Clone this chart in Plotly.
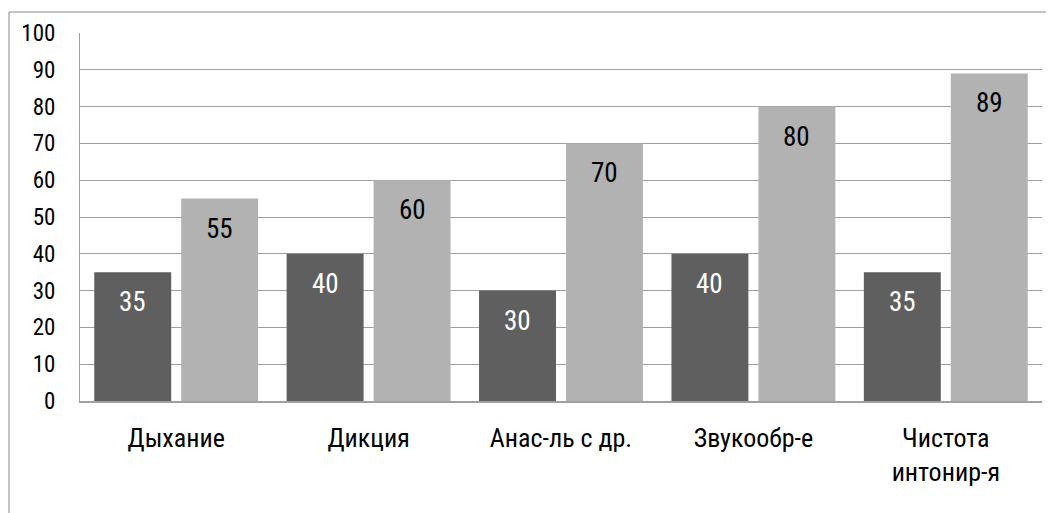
import plotly.graph_objects as go

categories = ["Дыхание", "Дикция", "Анас-ль с др.", "Звукообр-е", "Чистота<br>интонир-я"]
series_a = [35, 40, 30, 40, 35]
series_b = [55, 60, 70, 80, 89]
y_ticks = list(range(0, 101, 10))

FONT = "Roboto Condensed, Liberation Sans Narrow, Arial Narrow, Liberation Sans, sans-serif"
DARK = "#5f5f5f"
LIGHT = "#b2b2b2"
GRID = "#a0a0a0"

# page body has an 8px margin, so the figure is 8px smaller than the window
W, H = 1046, 505
ML, MR, MT, MB = 72, 12, 25, 112
PW = W - ML - MR
PH = H - MT - MB
OFF = 8  # page offset, used to convert screen pixels to paper coords

fig = go.Figure()
fig.add_trace(go.Bar(x=categories, y=series_a, marker=dict(color=DARK, line=dict(width=0)), name="A"))
fig.add_trace(go.Bar(x=categories, y=series_b, marker=dict(color=LIGHT, line=dict(width=0)), name="B"))

cat_w = PW / len(categories)
bargap = 0.096
bargroupgap = 0.115
slot = cat_w * (1 - bargap) / 2
offs = slot / 2

annotations = []
for i, c in enumerate(categories):
    for vals, col, dx in ((series_a, "white", -offs), (series_b, "black", offs)):
        annotations.append(dict(x=c, y=vals[i], xref="x", yref="y", text=str(vals[i]),
                                showarrow=False, xshift=dx, yanchor="top", yshift=-12,
                                font=dict(family=FONT, size=27, color=col)))

def px_x(p):
    return (p - OFF - ML) / PW

def px_y(p):
    return (H - MB - (p - OFF)) / PH

shapes = [
    dict(type="line", xref="paper", yref="paper", x0=px_x(9), x1=px_x(1046), y0=px_y(12), y1=px_y(12),
         line=dict(color="#8a8a8a", width=1)),
    dict(type="line", xref="paper", yref="paper", x0=px_x(9), x1=px_x(9), y0=px_y(12), y1=px_y(520),
         line=dict(color="#8a8a8a", width=1)),
]

fig.update_layout(
    width=W, height=H,
    margin=dict(l=ML, r=MR, t=MT, b=MB),
    paper_bgcolor="white", plot_bgcolor="white",
    barmode="group", bargap=bargap, bargroupgap=bargroupgap,
    showlegend=False,
    font=dict(family=FONT, size=24, color="black"),
    annotations=annotations,
    shapes=shapes,
)
fig.update_xaxes(showgrid=False, showline=True, linecolor=GRID, linewidth=2,
                 ticks="", tickfont=dict(family=FONT, size=26, color="black"), ticklabelstandoff=13)
fig.update_yaxes(range=[0, 100], tickvals=y_ticks, showgrid=True, gridcolor=GRID, gridwidth=1,
                 showline=True, linecolor=GRID, linewidth=1, ticks="", zeroline=False,
                 tickfont=dict(family=FONT, size=23, color="black"), ticklabelstandoff=19)

fig.write_html("out.html")
